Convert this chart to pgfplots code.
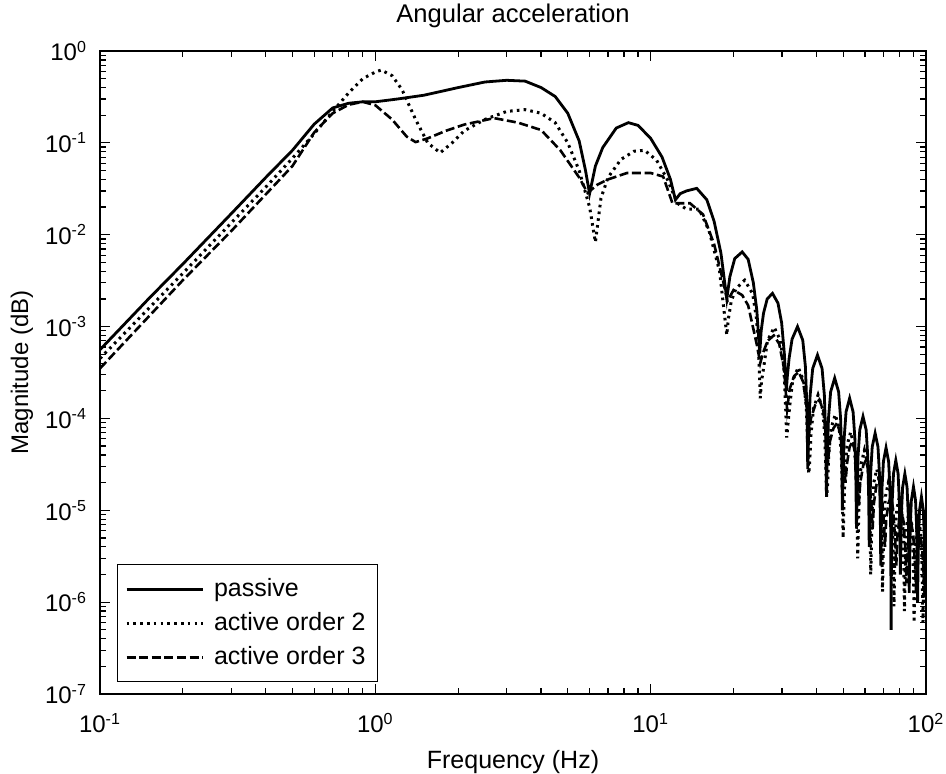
\documentclass[border=0pt]{standalone}
\usepackage{fontspec}
\setmainfont{Liberation Sans}
\usepackage{pgfplots}
\pgfplotsset{compat=1.18}
\begin{document}
\begin{tikzpicture}
\begin{axis}[
  at={(0,0)}, anchor=south west,
  scale only axis,
  width=413pt, height=321.5pt,
  xmode=log, ymode=log,
  log basis x=10, log basis y=10,
  xmin=0.1, xmax=100, ymin=1e-7, ymax=1,
  xtick={0.1,1,10,100},
  xticklabels={10\textsuperscript{-1},10\textsuperscript{0},10\textsuperscript{1},10\textsuperscript{2}},
  minor xtick={0.2,0.3,0.4,0.5,0.6,0.7,0.8,0.9,2,3,4,5,6,7,8,9,20,30,40,50,60,70,80,90},
  ytick={1e-7,1e-6,1e-5,1e-4,1e-3,1e-2,1e-1,1},
  yticklabels={10\textsuperscript{-7},10\textsuperscript{-6},10\textsuperscript{-5},10\textsuperscript{-4},10\textsuperscript{-3},10\textsuperscript{-2},10\textsuperscript{-1},10\textsuperscript{0}},
  minor ytick={2e-7,3e-7,4e-7,5e-7,6e-7,7e-7,8e-7,9e-7,2e-6,3e-6,4e-6,5e-6,6e-6,7e-6,8e-6,9e-6,2e-5,3e-5,4e-5,5e-5,6e-5,7e-5,8e-5,9e-5,2e-4,3e-4,4e-4,5e-4,6e-4,7e-4,8e-4,9e-4,2e-3,3e-3,4e-3,5e-3,6e-3,7e-3,8e-3,9e-3,0.02,0.03,0.04,0.05,0.06,0.07,0.08,0.09,0.2,0.3,0.4,0.5,0.6,0.7,0.8,0.9},
  tick align=inside,
  major tick length=5pt, minor tick length=2.8pt,
  every tick/.style={black, line width=0.6pt},
  axis line style={line width=0.8pt},
  tick label style={font=\fontsize{12}{14}\selectfont},
  xticklabel style={anchor=center, yshift=-14.5pt},
  yticklabel style={xshift=-3pt},
  every axis x label/.style={at={(axis description cs:0.5,-0.106)}, anchor=center, font=\fontsize{12.5}{14}\selectfont},
  every axis y label/.style={at={(axis description cs:-0.0945,0.5)}, rotate=90, anchor=center, font=\fontsize{12}{14}\selectfont},
  xlabel={Frequency (Hz)},
  ylabel={Magnitude (dB)},
  title={Angular acceleration},
  title style={font=\fontsize{12.8}{14}\selectfont, yshift=2pt},
  legend style={at={(0.02,0.018)}, anchor=south west, draw=black, line width=0.5pt,
    font=\fontsize{12.5}{14}\selectfont, row sep=2.5pt, column sep=3pt, inner xsep=4pt, inner ysep=5pt,
    cells={anchor=west}},
  legend image code/.code={\draw[#1] (0pt,0pt) -- (38pt,0pt);},
]
\addplot[black, line width=1.4pt] coordinates {
(0.1,5.6e-4) (0.15,2.0e-3) (0.2,4.8e-3) (0.3,0.017) (0.4,0.042) (0.5,0.083) (0.6,0.16) (0.7,0.24) (0.8,0.27) (0.9,0.28) (1.0,0.28) (1.2,0.30) (1.5,0.33) (2.0,0.40) (2.5,0.46) (3.0,0.48) (3.5,0.47) (4.0,0.40) (4.5,0.32) (5.0,0.21) (5.5,0.105) (5.8,0.05) (6.0,0.028) (6.3,0.056) (6.7,0.089) (7.5,0.145) (8.3,0.166) (9.0,0.155) (10,0.112) (11,0.07) (11.8,0.04) (12.3,0.024) (12.8,0.028) (13.5,0.030) (14.7,0.032) (16,0.024) (17,0.014) (18,6.3e-3)
(18.9,2.0e-3) (19.4,3.5e-3) (20.2,5.5e-3) (21.5,6.5e-3) (22.6,5.4e-3) (23.6,3e-3) (24.3,1.5e-3) (24.9,5.1e-4)
(25.2,9e-4) (25.7,1.4e-3) (26.5,2.0e-3) (27.7,2.3e-3) (29.0,1.8e-3) (29.9,1.1e-3) (30.6,5e-4) (31.1,2e-4)
(31.34,2.8e-4) (31.83,4.5e-4) (32.63,7.3e-4) (34.15,1e-3) (35.68,7.1e-4) (36.47,3.7e-4) (36.96,1.26e-4) (37.2,2.8e-5)
(37.45,6.2e-5) (37.96,1.8e-4) (38.78,3.5e-4) (40.35,4.9e-4) (41.93,3.5e-4) (42.74,1.8e-4) (43.25,6.2e-5) (43.5,1.4e-5)
(43.75,3.5e-5) (44.24,1.0e-4) (45.05,1.95e-4) (46.6,2.75e-4) (48.15,1.95e-4) (48.96,1.0e-4) (49.45,3.5e-5) (49.7,1e-5)
(49.95,2.1e-5) (50.44,6.1e-5) (51.25,1.18e-4) (52.8,1.66e-4) (54.35,1.18e-4) (55.16,6.1e-5) (55.65,2.1e-5) (55.9,6.3e-6)
(56.15,1.3e-5) (56.66,3.9e-5) (57.48,7.5e-5) (59.05,1.05e-4) (60.63,7.5e-5) (61.44,3.9e-5) (61.95,1.3e-5) (62.2,4e-6)
(62.45,8.7e-6) (62.96,2.55e-5) (63.78,4.9e-5) (65.35,6.9e-5) (66.93,4.9e-5) (67.74,2.55e-5) (68.25,8.7e-6) (68.5,2.5e-6)
(68.75,6e-6) (69.24,1.78e-5) (70.05,3.4e-5) (71.6,4.8e-5) (73.15,3.4e-5) (73.96,1.78e-5) (74.45,6e-6) (74.7,5e-7)
(74.94,4.4e-6) (75.42,1.3e-5) (76.2,2.5e-5) (77.7,3.5e-5) (79.2,2.5e-5) (79.98,1.3e-5) (80.46,4.4e-6) (80.7,2e-6)
(80.95,3.2e-6) (81.44,9.3e-6) (82.25,1.78e-5) (83.8,2.5e-5) (85.35,1.78e-5) (86.16,9.3e-6) (86.65,3.2e-6) (86.9,1.26e-6)
(87.15,2.3e-6) (87.66,6.7e-6) (88.48,1.28e-5) (90.05,1.8e-5) (91.63,1.28e-5) (92.44,6.7e-6) (92.95,2.3e-6) (93.2,1e-6)
(93.44,1.8e-6) (93.93,5.2e-6) (94.73,1e-5) (96.25,1.4e-5) (97.78,1e-5) (98.57,5.2e-6) (99.06,1.8e-6) (99.3,1.5e-6) (100,4e-6)
};
\addlegendentry{passive}
\addplot[black, line width=1.5pt, dash pattern=on 1.3pt off 2.1pt] coordinates {
(0.1,4.5e-4) (0.2,3.8e-3) (0.3,0.0135) (0.4,0.033) (0.5,0.068) (0.6,0.126) (0.7,0.22) (0.8,0.35) (0.9,0.50) (1.0,0.59) (1.05,0.62) (1.15,0.54) (1.25,0.38) (1.4,0.18) (1.55,0.10) (1.72,0.078) (1.9,0.10) (2.1,0.135) (2.5,0.18) (3.0,0.22) (3.5,0.23) (4.0,0.21) (4.5,0.166) (5.0,0.10) (5.5,0.05) (6.0,0.02) (6.3,8.3e-3) (6.6,0.025) (7.0,0.042) (7.8,0.066) (8.7,0.081) (9.5,0.083) (10.5,0.065) (11.5,0.04) (12.5,0.022) (13.5,0.019) (15.0,0.019) (16.3,0.011) (17.8,4e-3)
(18.9,8.1e-4) (19.14,1.2e-3) (19.63,1.9e-3) (20.43,2.6e-3) (21.95,3.2e-3) (23.48,2.27e-3) (24.27,1.18e-3) (24.76,4e-4) (25.0,1.66e-4)
(25.25,2.5e-4) (25.74,3.6e-4) (26.55,7e-4) (28.1,9.8e-4) (29.65,7e-4) (30.46,3.6e-4) (30.95,1.23e-4) (31.2,6.2e-5)
(31.45,8e-5) (31.96,1.33e-4) (32.78,2.56e-4) (34.35,3.6e-4) (35.93,2.56e-4) (36.74,1.33e-4) (37.25,4.5e-5) (37.5,2.5e-5)
(37.74,3e-5) (38.23,6.7e-5) (39.03,1.28e-4) (40.55,1.8e-4) (42.08,1.28e-4) (42.87,6.7e-5) (43.36,2.3e-5) (43.6,1.4e-5)
(43.86,1.8e-5) (44.37,4.1e-5) (45.2,7.8e-5) (46.8,1.1e-4) (48.4,7.8e-5) (49.23,4.1e-5) (49.74,1.4e-5) (50.0,5e-6)
(50.26,9e-6) (50.78,2.6e-5) (51.63,5e-5) (53.25,7.1e-5) (54.88,5e-5) (55.72,2.6e-5) (56.24,9e-6) (56.5,3e-6)
(56.76,5.7e-6) (57.28,1.67e-5) (58.13,3.2e-5) (59.75,4.5e-5) (61.38,3.2e-5) (62.22,1.67e-5) (62.74,5.7e-6) (63.0,2e-6)
(63.26,3.5e-6) (63.78,1.04e-5) (64.63,2e-5) (66.25,2.8e-5) (67.88,2e-5) (68.72,1.04e-5) (69.24,3.5e-6) (69.5,1.3e-6)
(69.78,2.5e-6) (70.34,7.4e-6) (71.25,1.42e-5) (73.0,2e-5) (74.75,1.42e-5) (75.66,7.4e-6) (76.22,2.5e-6) (76.5,9e-7)
(76.78,1.76e-6) (77.34,5.2e-6) (78.25,1e-5) (80.0,1.4e-5) (81.75,1e-5) (82.66,5.2e-6) (83.22,1.76e-6) (83.5,8e-7)
(83.78,1.26e-6) (84.34,3.7e-6) (85.25,7.1e-6) (87.0,1e-5) (88.75,7.1e-6) (89.66,3.7e-6) (90.22,1.26e-6) (90.5,6e-7)
(90.78,1e-6) (91.34,2.9e-6) (92.25,5.6e-6) (94.0,7.9e-6) (95.75,5.6e-6) (96.66,2.9e-6) (97.22,1e-6) (97.5,6e-7)
(98.0,1.5e-6) (98.8,3.5e-6) (100,5e-6)
};
\addlegendentry{active order 2}
\addplot[black, line width=1.3pt, dash pattern=on 4.5pt off 1.8pt] coordinates {
(0.1,3.5e-4) (0.2,3.2e-3) (0.3,0.011) (0.4,0.0275) (0.5,0.056) (0.6,0.13) (0.7,0.21) (0.8,0.26) (0.9,0.28) (1.0,0.257) (1.15,0.18) (1.3,0.117) (1.4,0.102) (1.55,0.112) (1.8,0.135) (2.1,0.158) (2.7,0.186) (3.3,0.166) (4.0,0.138) (4.7,0.083) (5.5,0.042) (5.9,0.0285) (6.4,0.035) (7.0,0.04) (8.2,0.047) (10.0,0.047) (11.1,0.043) (12.0,0.022) (13.9,0.022) (15.5,0.0166) (17.0,7.9e-3) (18.3,3.2e-3)
(19.0,1.9e-3) (20.0,2.5e-3) (21.5,2.2e-3) (22.6,1.7e-3) (23.5,1e-3) (24.4,6e-4)
(25.0,4e-4) (25.6,5.2e-4) (26.6,7e-4) (28.0,8e-4) (29.3,6.5e-4) (30.5,3.5e-4) (31.3,1.26e-4) (32.0,2.1e-4) (33.2,2.9e-4) (34.5,3.2e-4) (35.8,2.5e-4) (36.9,1.3e-4) (37.5,6.3e-5) (38.2,1.0e-4) (39.6,1.4e-4) (41.0,1.6e-4) (42.4,1.2e-4) (43.5,5.5e-5) (44.0,3.2e-5) (44.7,5.5e-5) (46.1,7.8e-5) (47.5,8.9e-5) (48.9,6.8e-5) (50.4,3e-5) (51.0,2e-5) (51.7,3.3e-5) (52.8,4.9e-5) (54.0,5.6e-5) (55.3,4.3e-5) (56.5,1.9e-5) (57.0,1.12e-5) (57.7,2e-5) (59.2,3.1e-5) (60.5,3.5e-5) (61.8,2.7e-5) (63.4,1.1e-5) (64.0,6.3e-6) (64.7,1.2e-5) (66.1,1.9e-5) (67.5,2.2e-5) (68.9,1.7e-5) (70.4,7e-6) (71.0,4e-6) (71.7,8e-6) (73.1,1.2e-5) (74.5,1.4e-5) (75.9,1.05e-5) (77.4,4.5e-6) (78.0,2.5e-6) (78.7,5e-6) (80.1,8.5e-6) (81.5,1e-5) (82.9,7.5e-6) (84.4,3.2e-6) (85.0,1.6e-6) (85.6,3.2e-6) (87.1,6e-6) (88.5,7.1e-6) (89.9,5.3e-6) (91.4,2.3e-6) (92.0,1.26e-6) (92.6,2.5e-6) (94.1,4.3e-6) (95.5,5e-6) (96.9,3.8e-6) (98.4,1.6e-6) (99.0,1.12e-6) (99.5,1.8e-6) (100,2.5e-6)
};
\addlegendentry{active order 3}
\end{axis}
\pgfresetboundingbox
\path[use as bounding box] (-50pt,-40pt) rectangle (423pt,347pt);
\end{tikzpicture}
\end{document}
